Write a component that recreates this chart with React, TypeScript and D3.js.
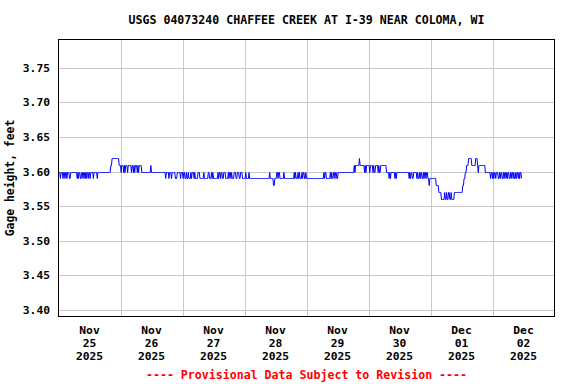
import React from 'react';
import * as d3 from 'd3';

// gage height, feet: 15-minute readings as [value, count] runs, one array per day
const nov25Runs: [number, number][] = [
  [3.60, 3], [3.59, 1], [3.60, 3], [3.59, 1], [3.60, 2], [3.59, 1], [3.60, 2], [3.59, 1],
  [3.60, 3], [3.59, 2], [3.60, 10], [3.59, 1], [3.60, 1], [3.59, 1], [3.60, 2], [3.59, 2],
  [3.60, 2], [3.59, 1], [3.60, 2], [3.59, 1], [3.60, 1], [3.59, 1], [3.60, 2], [3.59, 1],
  [3.60, 2], [3.59, 1], [3.60, 4], [3.59, 1], [3.60, 5], [3.59, 1], [3.60, 20], [3.61, 2],
  [3.62, 11], [3.61, 2],
];
const nov26Runs: [number, number][] = [
  [3.61, 1], [3.60, 1], [3.61, 3], [3.60, 1], [3.61, 1], [3.60, 1], [3.61, 3], [3.60, 1],
  [3.61, 5], [3.60, 1], [3.61, 2], [3.60, 1], [3.61, 1], [3.60, 1], [3.61, 3], [3.60, 1],
  [3.61, 1], [3.60, 1], [3.61, 4], [3.60, 14], [3.61, 1], [3.60, 22], [3.59, 1], [3.60, 4],
  [3.59, 1], [3.60, 3], [3.59, 1], [3.60, 5], [3.59, 3], [3.60, 5], [3.59, 1], [3.60, 2],
];
const nov27Runs: [number, number][] = [
  [3.60, 1], [3.59, 1], [3.60, 2], [3.59, 2], [3.60, 1], [3.59, 2], [3.60, 1], [3.59, 3],
  [3.60, 1], [3.59, 1], [3.60, 3], [3.59, 1], [3.60, 1], [3.59, 4], [3.60, 3], [3.59, 6],
  [3.60, 1], [3.59, 6], [3.60, 2], [3.59, 3], [3.60, 1], [3.59, 1], [3.60, 1], [3.59, 7],
  [3.60, 1], [3.59, 1], [3.60, 2], [3.59, 1], [3.60, 2], [3.59, 2], [3.60, 3], [3.59, 4],
  [3.60, 1], [3.59, 1], [3.60, 2], [3.59, 1], [3.60, 1], [3.59, 3], [3.60, 3], [3.59, 2],
  [3.60, 3], [3.59, 2], [3.60, 3], [3.59, 3],
];
const nov28Runs: [number, number][] = [
  [3.59, 2], [3.60, 1], [3.59, 4], [3.60, 1], [3.59, 31], [3.60, 1], [3.59, 5], [3.58, 2],
  [3.59, 3], [3.60, 2], [3.59, 1], [3.60, 2], [3.59, 6], [3.60, 1], [3.59, 15], [3.60, 1],
  [3.59, 1], [3.60, 1], [3.59, 3], [3.60, 1], [3.59, 1], [3.60, 1], [3.59, 3], [3.60, 1],
  [3.59, 1], [3.60, 2], [3.59, 2], [3.60, 1],
];
const nov29Runs: [number, number][] = [
  [3.59, 27], [3.60, 1], [3.59, 1], [3.60, 2], [3.59, 6], [3.60, 1], [3.59, 1], [3.60, 1],
  [3.59, 2], [3.60, 2], [3.59, 1], [3.60, 2], [3.59, 2], [3.60, 25], [3.61, 1], [3.60, 1],
  [3.61, 6], [3.62, 1], [3.61, 7], [3.60, 1], [3.61, 1], [3.60, 1], [3.61, 3],
];
const nov30Runs: [number, number][] = [
  [3.61, 2], [3.60, 1], [3.61, 4], [3.60, 1], [3.61, 1], [3.60, 2], [3.61, 4], [3.60, 1],
  [3.61, 1], [3.60, 2], [3.61, 9], [3.60, 4], [3.59, 1], [3.60, 1], [3.59, 1], [3.60, 6],
  [3.59, 1], [3.60, 1], [3.59, 1], [3.60, 19], [3.59, 1], [3.60, 1], [3.59, 1], [3.60, 2],
  [3.59, 2], [3.60, 5], [3.59, 1], [3.60, 1], [3.59, 2], [3.60, 1], [3.59, 1], [3.60, 2],
  [3.59, 2], [3.60, 1], [3.59, 1], [3.60, 2], [3.59, 1], [3.60, 2], [3.59, 2], [3.58, 1],
  [3.59, 1],
];
const dec01Runs: [number, number][] = [
  [3.59, 9], [3.58, 4], [3.57, 4], [3.56, 5], [3.57, 1], [3.56, 2], [3.57, 1], [3.56, 2],
  [3.57, 2], [3.56, 2], [3.57, 1], [3.56, 4], [3.57, 13], [3.58, 2], [3.59, 2], [3.60, 2],
  [3.61, 3], [3.62, 5], [3.61, 6], [3.62, 3], [3.61, 1], [3.60, 1], [3.61, 10], [3.60, 8],
  [3.59, 1], [3.60, 2],
];
const dec02Runs: [number, number][] = [
  [3.59, 1], [3.60, 1], [3.59, 1], [3.60, 2], [3.59, 1], [3.60, 3], [3.59, 2], [3.60, 1],
  [3.59, 1], [3.60, 2], [3.59, 2], [3.60, 1], [3.59, 1], [3.60, 2], [3.59, 1], [3.60, 1],
  [3.59, 1], [3.60, 2], [3.59, 2], [3.60, 1], [3.59, 1], [3.60, 2], [3.59, 1], [3.60, 1],
  [3.59, 2], [3.60, 1], [3.59, 1], [3.60, 2], [3.59, 1], [3.60, 1], [3.59, 1], [3.60, 2],
  [3.59, 1],
];

const monthLabels = ['Nov', 'Nov', 'Nov', 'Nov', 'Nov', 'Nov', 'Dec', 'Dec'];
const dayLabels = ['25', '26', '27', '28', '29', '30', '01', '02'];
const yearLabels = ['2025', '2025', '2025', '2025', '2025', '2025', '2025', '2025'];
const yTicks = [3.40, 3.45, 3.50, 3.55, 3.60, 3.65, 3.70, 3.75];

const title = 'USGS 04073240 CHAFFEE CREEK AT I-39 NEAR COLOMA, WI';
const footer = '---- Provisional Data Subject to Revision ----';

const startMs = Date.UTC(2025, 10, 25);
const stepMs = 15 * 60 * 1000;

const App = () => {
  const width = 576;
  const height = 384;
  const margin = { top: 39.5, right: 21.5, bottom: 67.5, left: 58.5 };
  const x0 = margin.left;
  const x1 = width - margin.right;
  const y0 = margin.top;
  const y1 = height - margin.bottom;

  const xScale = d3
    .scaleUtc()
    .domain([new Date(startMs), new Date(Date.UTC(2025, 11, 3))])
    .range([x0, x1]);

  const yScale = d3.scaleLinear().domain([3.3903, 3.7909]).range([y1, y0]);

  const allRuns = [nov25Runs, nov26Runs, nov27Runs, nov28Runs, nov29Runs, nov30Runs, dec01Runs, dec02Runs];
  const values: number[] = [];
  allRuns.forEach((runs) => runs.forEach(([v, n]) => { for (let k = 0; k < n; k++) values.push(v); }));
  const points = values.map((v, i) => ({ t: new Date(startMs + i * stepMs), v }));

  const line = d3
    .line<{ t: Date; v: number }>()
    .x((d) => xScale(d.t))
    .y((d) => Math.round(yScale(d.v)) + 0.5);

  const dayTicks = xScale.ticks(d3.utcDay.every(1)!);
  const fmt = d3.format('.2f');
  const font = "'DejaVu Sans Mono', monospace";

  return (
    <svg
      width={width}
      height={height}
      style={{ position: 'absolute', left: 0, top: 0, background: '#fff' }}
      fontFamily={font}
      fontWeight="bold"
    >
      <text x={(x0 + x1) / 2} y={24} textAnchor="middle" fontSize={11.6} fill="#000">
        {title}
      </text>

      {/* gridlines */}
      {yTicks.map((t) => (
        <line key={'h' + t} x1={x0} x2={x1} y1={Math.round(yScale(t)) + 0.5} y2={Math.round(yScale(t)) + 0.5} stroke="#c8c8c8" />
      ))}
      {dayTicks.slice(1, -1).map((d) => (
        <line key={'v' + d.getTime()} x1={Math.round(xScale(d)) + 0.5} x2={Math.round(xScale(d)) + 0.5} y1={y0} y2={y1} stroke="#c8c8c8" />
      ))}

      <path d={line(points) || ''} fill="none" stroke="#0000ff" strokeWidth={1} />

      <rect x={x0} y={y0} width={x1 - x0} height={y1 - y0} fill="none" stroke="#000" strokeWidth={1} />

      {/* y axis labels */}
      {yTicks.map((t) => (
        <text key={'yl' + t} x={50} y={yScale(t) + 4} textAnchor="end" fontSize={11.3} fill="#000">
          {fmt(t)}
        </text>
      ))}
      <text
        transform={`translate(14,${(y0 + y1) / 2}) rotate(-90)`}
        textAnchor="middle"
        fontSize={11.4}
        fill="#000"
      >
        Gage height, feet
      </text>

      {/* x axis labels at noon of each day */}
      {monthLabels.map((m, i) => {
        const cx = xScale(new Date(startMs + i * 86400000 + 43200000));
        return (
          <g key={'xl' + i} textAnchor="middle" fontSize={11.3} fill="#000">
            <text x={cx} y={334}>{m}</text>
            <text x={cx} y={347}>{dayLabels[i]}</text>
            <text x={cx} y={360}>{yearLabels[i]}</text>
          </g>
        );
      })}

      <text x={(x0 + x1) / 2} y={379} textAnchor="middle" fontSize={11.6} fill="#ff0000">
        {footer}
      </text>
    </svg>
  );
};

export default App;
